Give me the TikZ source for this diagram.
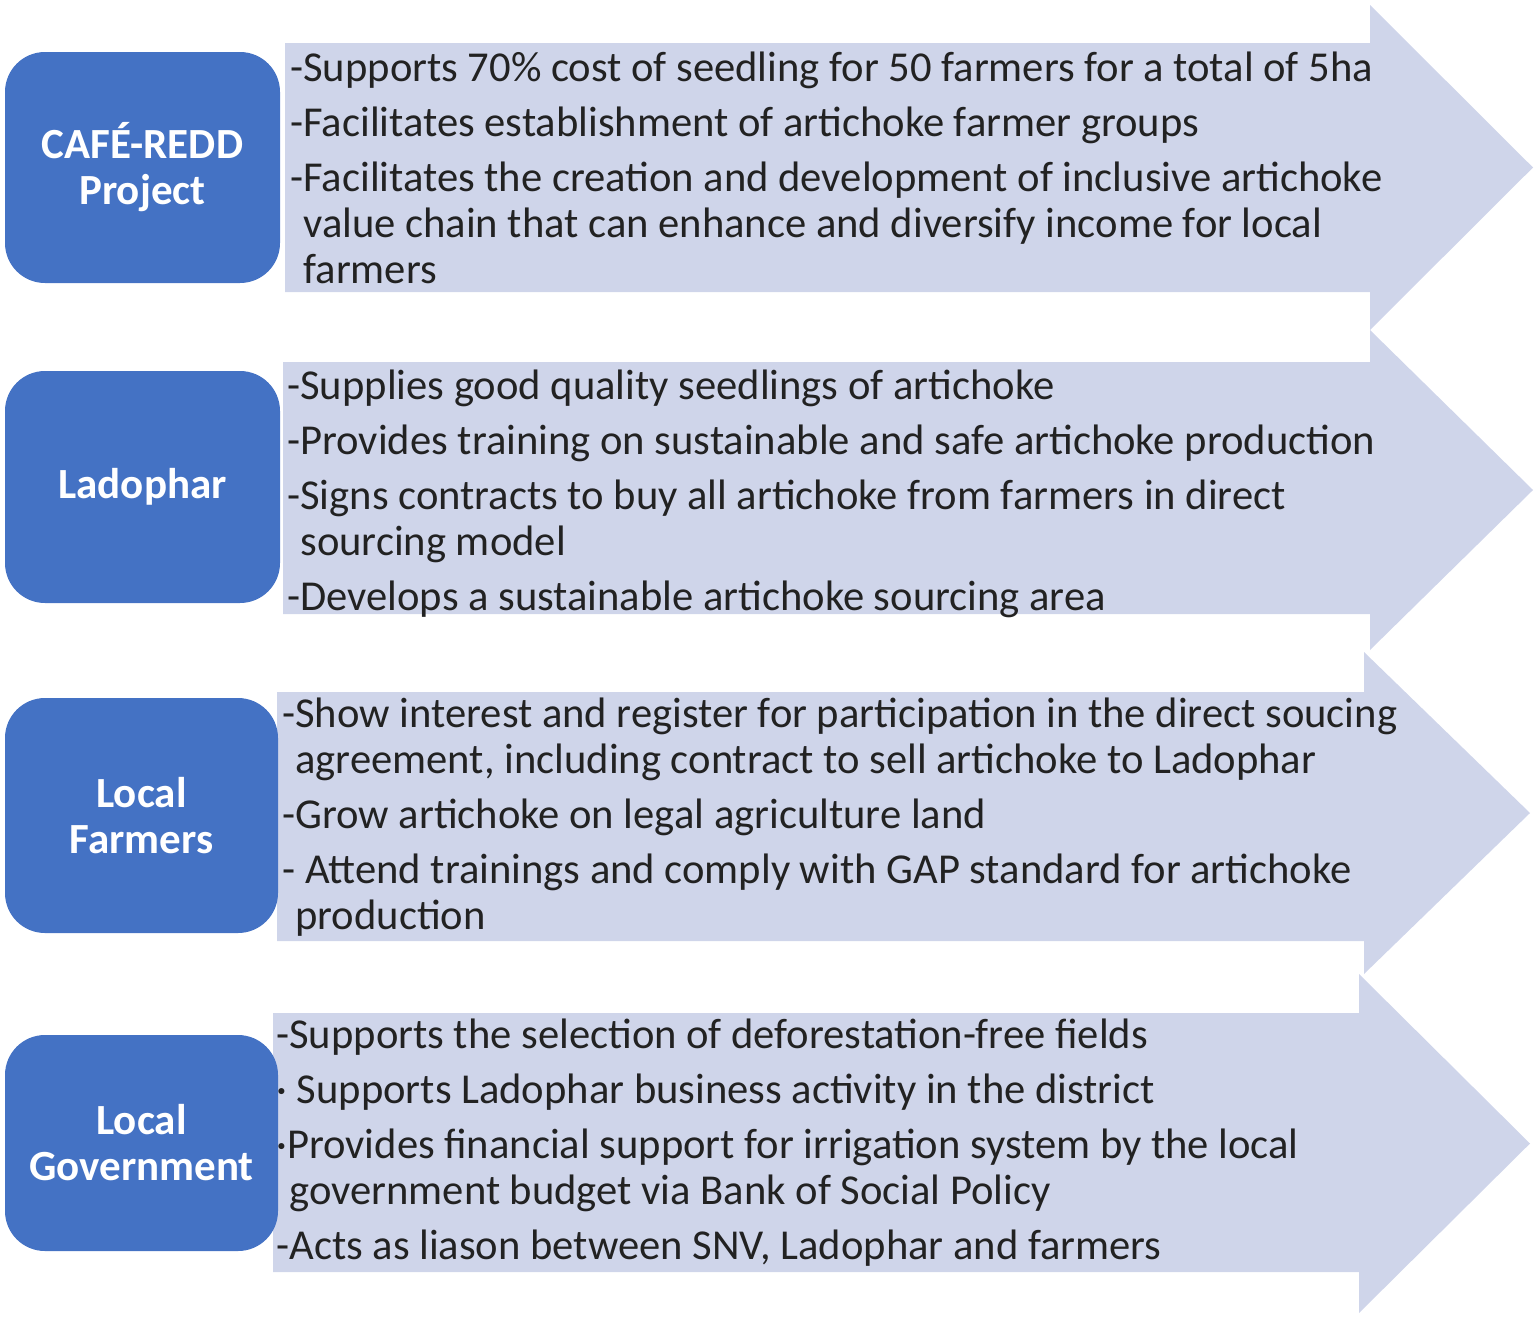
\documentclass[tikz,border=0pt]{standalone}
\usepackage{fontspec}
\setmainfont{Carlito}
\usetikzlibrary{positioning}
\definecolor{actorblue}{HTML}{4472C4}
\definecolor{rolefill}{HTML}{CFD5EA}
\definecolor{roletext}{HTML}{222222}

\begin{document}
\begin{tikzpicture}[
        x=0.5pt, y=-0.5pt,
        actor/.style={rectangle, rounded corners=20pt, fill=actorblue, text=white,
            font=\fontsize{21.5}{23}\selectfont\bfseries, align=center,
            minimum width=137.5pt, inner sep=0pt},
        roles/.style={anchor=base west, inner sep=0pt, align=left, text=roletext,
            font=\fontsize{21.3}{23}\selectfont}
        ]
        \useasboundingbox (0,0) rectangle (1536,1323);

        % Draw the arrows
        \foreach \xl/\yt/\yb/\xb/\ht/\hb/\xt/\ym in {
            285/43/292/1370/5/330/1533/167.5,
            283/362/614/1370/330/650/1533/490,
            277/692/941/1364/652/974/1530/813,
            273/1013/1272/1359/974/1313/1530/1143.5}
            \fill[rolefill] (\xl,\yt) -- (\xb,\yt) -- (\xb,\ht) -- (\xt,\ym)
                -- (\xb,\hb) -- (\xb,\yb) -- (\xl,\yb) -- cycle;

        % Define the actors
        \node[actor, minimum height=115.5pt] (cafe) at (142.5,167.5) {CAFÉ-REDD\\Project};
        \node[actor, minimum height=116pt] (ladophar) at (142.5,487) {Ladophar};
        \node[actor, minimum width=136.5pt, minimum height=117.5pt] (farmers) at (141.5,815.5) {Local\\Farmers};
        \node[actor, minimum width=136.5pt, minimum height=108pt] (government) at (141.5,1143) {Local\\Government};

        % Define the roles (anchored on the last line)
        \node[roles] (cafe-roles) at (290,283) {%
            -Supports 70\% cost of seedling for 50 farmers for a total of 5ha\\[4.5pt]
            -Facilitates establishment of artichoke farmer groups\\[4.5pt]
            -Facilitates the creation and development of inclusive artichoke\\
            \hphantom{-}value chain that can enhance and diversify income for local\\
            \hphantom{-}farmers};
        \node[roles] (ladophar-roles) at (287,610) {%
            -Supplies good quality seedlings of artichoke\\[4.5pt]
            -Provides training on sustainable and safe artichoke production\\[4.5pt]
            -Signs contracts to buy all artichoke from farmers in direct\\
            \hphantom{-}sourcing model\\[4.5pt]
            -Develops a sustainable artichoke sourcing area};
        \node[roles] (farmers-roles) at (282,929) {%
            -Show interest and register for participation in the direct soucing\\
            \hphantom{-}agreement, including contract to sell artichoke to Ladophar\\[4.5pt]
            -Grow artichoke on legal agriculture land\\[4.5pt]
            - Attend trainings and comply with GAP standard for artichoke\\
            \hphantom{-}production};
        \node[roles] (government-roles) at (276,1259) {%
            -Supports the selection of deforestation-free fields\\[4.5pt]
            · Supports Ladophar business activity in the district\\[4.5pt]
            ·Provides financial support for irrigation system by the local\\
            \hphantom{-}government budget via Bank of Social Policy\\[4.5pt]
            -Acts as liason between SNV, Ladophar and farmers};
    \end{tikzpicture}
\end{document}
